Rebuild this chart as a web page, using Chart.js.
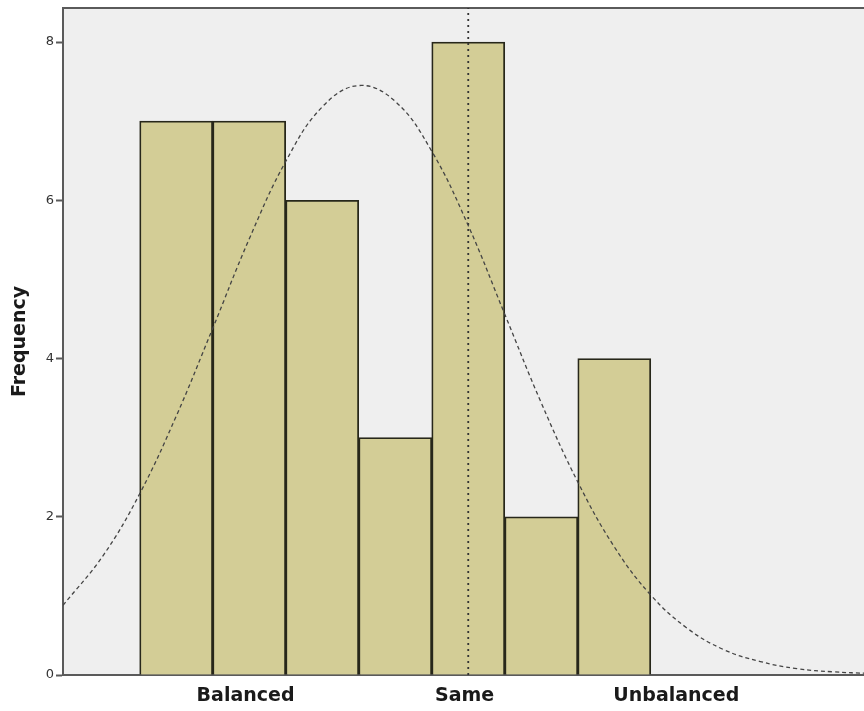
<!DOCTYPE html>
<html>
<head>
<meta charset="utf-8">
<script src="https://cdn.jsdelivr.net/npm/chart.js@4"></script>
<style>
  html, body { margin: 0; padding: 0; background: #fff; }
  #wrap { width: 864px; height: 711px; }
</style>
</head>
<body>
<div id="wrap"><canvas id="hist"></canvas></div>
<script>
// Histogram bins (bin i spans i..i+1) and their counts
const binCenters = [0.5, 1.5, 2.5, 3.5, 4.5, 5.5, 6.5];
const frequencies = [7, 7, 6, 3, 8, 2, 4];

// Normal curve read at half-bin steps
const curveX = [-1.05, -0.5, 0, 0.5, 1, 1.5, 2, 2.5, 3, 3.5, 4, 4.5, 5, 5.5, 6, 6.5, 7, 7.5, 8, 8.5, 9, 9.5, 10];
const curveY = [0.88, 1.51, 2.29, 3.27, 4.38, 5.51, 6.49, 7.18, 7.45, 7.25, 6.62, 5.68, 4.56, 3.44, 2.44, 1.62, 1.01, 0.59, 0.32, 0.17, 0.08, 0.04, 0.02];

// Reference line at "Same"
const referenceX = 4.5;

// x axis labels and where they sit
const axisLabels = ['Balanced', 'Same', 'Unbalanced'];
const axisLabelAt = [1.45, 4.45, 7.35];
const yTicks = [0, 2, 4, 6, 8];

const X_MIN = -1.05, X_MAX = 9.92, Y_MAX = 8.43;

// grey plot background + top frame line
const plotFrame = {
  id: 'plotFrame',
  beforeDraw(chart) {
    const { ctx, chartArea: a } = chart;
    ctx.save();
    ctx.fillStyle = '#efefef';
    ctx.fillRect(a.left, a.top, a.right - a.left, a.bottom - a.top);
    ctx.strokeStyle = '#5a5a5a';
    ctx.lineWidth = 2;
    ctx.beginPath();
    ctx.moveTo(a.left, a.top);
    ctx.lineTo(a.right, a.top);
    ctx.stroke();
    ctx.restore();
  }
};

new Chart(document.getElementById('hist'), {
  type: 'bar',
  data: {
    datasets: [
      {
        type: 'line',
        data: curveX.map((x, i) => ({ x: x, y: curveY[i] })),
        borderColor: '#444',
        borderWidth: 1.3,
        borderDash: [4, 3],
        pointRadius: 0,
        tension: 0.4,
        order: 0
      },
      {
        type: 'line',
        data: [{ x: referenceX, y: 0 }, { x: referenceX, y: Y_MAX }],
        borderColor: '#333',
        borderWidth: 1.8,
        borderDash: [2, 4],
        pointRadius: 0,
        order: 1
      },
      {
        data: binCenters.map((x, i) => ({ x: x, y: frequencies[i] })),
        backgroundColor: '#d3cd96',
        borderColor: '#27271a',
        borderWidth: 1.8,
        barPercentage: 1,
        categoryPercentage: 1,
        grouped: false,
        order: 2
      }
    ]
  },
  options: {
    responsive: true,
    maintainAspectRatio: false,
    animation: false,
    layout: { padding: { top: 8, right: 0, left: 0, bottom: 0 } },
    plugins: {
      legend: { display: false },
      tooltip: { enabled: false }
    },
    scales: {
      x: {
        type: 'linear',
        min: X_MIN,
        max: X_MAX,
        offset: false,
        afterBuildTicks: (scale) => {
          scale.ticks = axisLabelAt.map(v => ({ value: v }));
        },
        afterFit: (scale) => {
          scale.height = 36;
          scale.paddingLeft = 0;
          scale.paddingRight = 0;
        },
        ticks: {
          autoSkip: false,
          maxRotation: 0,
          padding: 10,
          color: '#1a1a1a',
          font: { family: 'DejaVu Sans', size: 19, weight: 'bold' },
          callback: (v, i) => axisLabels[i]
        },
        grid: { display: true, drawOnChartArea: false, drawTicks: false },
        border: { display: true, color: '#5a5a5a', width: 2 }
      },
      y: {
        min: 0,
        max: Y_MAX,
        afterBuildTicks: (scale) => {
          scale.ticks = yTicks.map(v => ({ value: v }));
        },
        afterFit: (scale) => {
          scale.width = 63;
          scale.paddingTop = 0;
          scale.paddingBottom = 0;
        },
        ticks: {
          padding: 2,
          color: '#333',
          font: { family: 'DejaVu Sans', size: 13 }
        },
        grid: {
          drawOnChartArea: false,
          drawTicks: true,
          tickLength: 7,
          tickColor: '#5a5a5a',
          tickWidth: 2
        },
        border: { display: true, color: '#5a5a5a', width: 2 },
        title: {
          display: true,
          text: 'Frequency',
          color: '#1a1a1a',
          padding: { top: 9, bottom: 0 },
          font: { family: 'DejaVu Sans', size: 19, weight: 'bold' }
        }
      }
    }
  },
  plugins: [plotFrame]
});
</script>
</body>
</html>
